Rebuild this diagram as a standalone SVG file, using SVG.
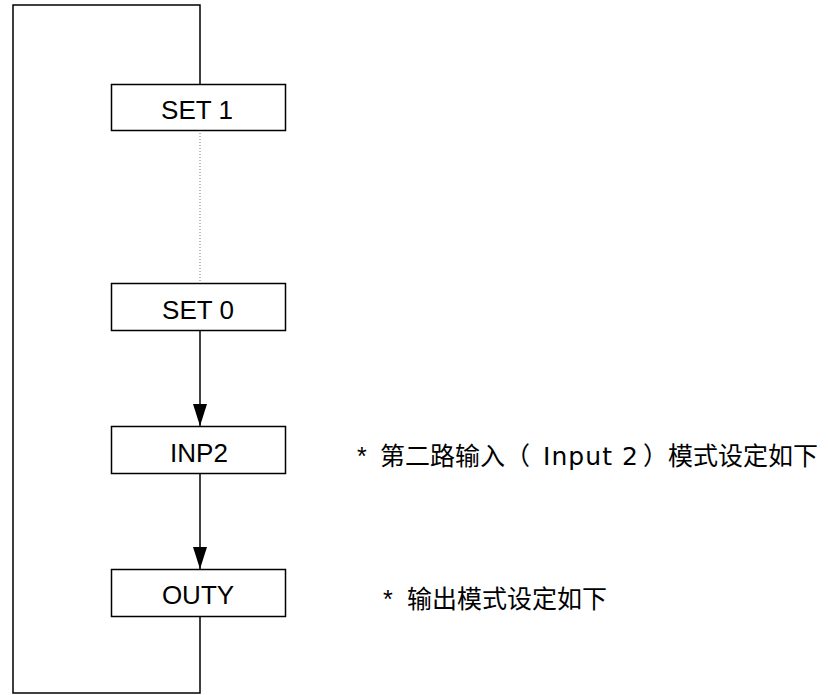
<svg xmlns="http://www.w3.org/2000/svg" width="828" height="695" viewBox="0 0 828 695">
<style>
.box{fill:#fff;stroke:#000;stroke-width:1.5}
.lbl{font-family:"Liberation Sans","DejaVu Sans",sans-serif;font-size:26px;fill:#000;text-anchor:middle}
.note{font-family:"Liberation Sans","Noto Sans CJK SC",sans-serif;font-size:25px;fill:#000}
.lat{font-family:"DejaVu Sans","Liberation Sans",sans-serif}
.ln{fill:none;stroke:#000;stroke-width:1.5}
</style>
<defs>
<marker id="arrow" viewBox="0 0 14 22" refX="7" refY="22" markerWidth="14" markerHeight="22" orient="0" markerUnits="userSpaceOnUse">
<path d="M0,0 L14,0 L7,22 Z" fill="#000"/>
</marker>
</defs>
<g id="connectors">
<path class="ln" d="M200,84 V5 H13 V693 H200 V617"/>
<line x1="200" y1="130" x2="200" y2="283" stroke="#777" stroke-width="1" stroke-dasharray="1,2"/>
<line class="ln" x1="200" y1="331" x2="200" y2="426" marker-end="url(#arrow)"/>
<line class="ln" x1="200" y1="474" x2="200" y2="569" marker-end="url(#arrow)"/>
</g>
<g id="set1">
<rect class="box" x="111.5" y="84.5" width="174" height="46"/>
<text class="lbl" x="197" y="119">SET 1</text>
</g>
<g id="set0">
<rect class="box" x="111.5" y="283.5" width="174" height="47"/>
<text class="lbl" x="198" y="319">SET 0</text>
</g>
<g id="inp2">
<rect class="box" x="111.5" y="426.5" width="174" height="47"/>
<text class="lbl" x="199" y="462">INP2</text>
</g>
<g id="outy">
<rect class="box" x="111.5" y="569.5" width="174" height="47"/>
<text class="lbl" x="198" y="604">OUTY</text>
</g>
<g id="notes">
<text class="note" y="465"><tspan x="357">*</tspan><tspan x="380">第二路输入（</tspan><tspan class="lat" x="543" textLength="95" lengthAdjust="spacing">Input 2</tspan><tspan x="643">）模式设定如下</tspan></text>
<text class="note" y="608"><tspan x="383">*</tspan><tspan x="407">输出模式设定如下</tspan></text>
</g>
</svg>
